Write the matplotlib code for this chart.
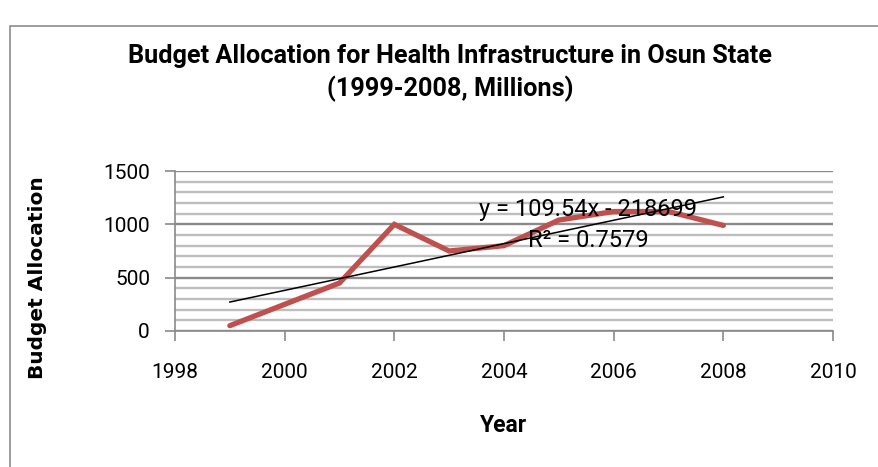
import numpy as np
import matplotlib.pyplot as plt
from matplotlib.patches import Rectangle
from matplotlib.ticker import MultipleLocator

# Budget allocation per year (millions)
years = [1999, 2000, 2001, 2002, 2003, 2004, 2005, 2006, 2007, 2008]
allocation = [50, 250, 450, 1000, 750, 800, 1040, 1120, 1120, 990]

# Linear trendline as reported
slope = 109.54
intercept = -218699
r_squared = 0.7579

font = ['Roboto', 'DejaVu Sans']

fig = plt.figure(figsize=(8.79, 4.67), dpi=100)
fig.patches.append(Rectangle((10 / 879, -0.1), 1.2, 1 - 26 / 467 + 0.1,
                             transform=fig.transFigure, fill=False,
                             edgecolor='#8c8c8c', linewidth=1.2))

ax = fig.add_axes([175 / 879, 1 - 331 / 467, (833 - 175) / 879, (331 - 171) / 467])

# Gridlines: light every 100, darker every 500
ax.yaxis.set_major_locator(MultipleLocator(500))
ax.yaxis.set_minor_locator(MultipleLocator(100))
ax.grid(True, which='minor', axis='y', color='#bdbdbd', linewidth=1.7)
ax.grid(True, which='major', axis='y', color='#8a8a8a', linewidth=1.7)
ax.set_axisbelow(True)

ax.plot(years, allocation, color='#C0504D', linewidth=3.8, solid_capstyle='round',
        solid_joinstyle='miter', zorder=3)

tx = np.array([years[0], years[-1]])
ax.plot(tx, slope * tx + intercept, color='black', linewidth=1.1, zorder=4)

ax.text(2005.53, 1140, f'y = {slope}x - {abs(intercept)}', ha='center', va='center',
        fontsize=17, family=font, zorder=5)
ax.text(2005.53, 850, f'R² = {r_squared}', ha='center', va='center',
        fontsize=17, family=font, zorder=5)

ax.set_xlim(1998, 2010)
ax.set_ylim(0, 1500)
ax.xaxis.set_major_locator(MultipleLocator(2))

for side in ['top', 'right']:
    ax.spines[side].set_visible(False)
for side in ['left', 'bottom']:
    ax.spines[side].set_color('#8a8a8a')
    ax.spines[side].set_linewidth(1.2)

ax.tick_params(axis='both', which='major', length=7, width=1.2, color='#8a8a8a',
               labelsize=15)
ax.tick_params(axis='y', which='minor', length=0)
ax.tick_params(axis='x', pad=16)
ax.tick_params(axis='y', pad=11)
for lab in ax.get_xticklabels() + ax.get_yticklabels():
    lab.set_family(font)

ax.set_xlabel('Year', fontsize=16.5, fontweight='bold', family=font, va='center')
ax.xaxis.set_label_coords(0.5, (331 - 425) / 160)
ax.set_ylabel('Budget Allocation', fontsize=14.5, fontweight='bold', va='center')
ax.yaxis.set_label_coords((38 - 175) / 658, (331 - 278) / 160)

fig.text(0.512, 1 - 56 / 467, 'Budget Allocation for Health Infrastructure in Osun State',
         ha='center', va='center', fontsize=18.2, fontweight='bold', family=font)
fig.text(0.512, 1 - 89 / 467, '(1999-2008, Millions)',
         ha='center', va='center', fontsize=18.2, fontweight='bold', family=font)

fig.savefig('out.png', dpi=100)
